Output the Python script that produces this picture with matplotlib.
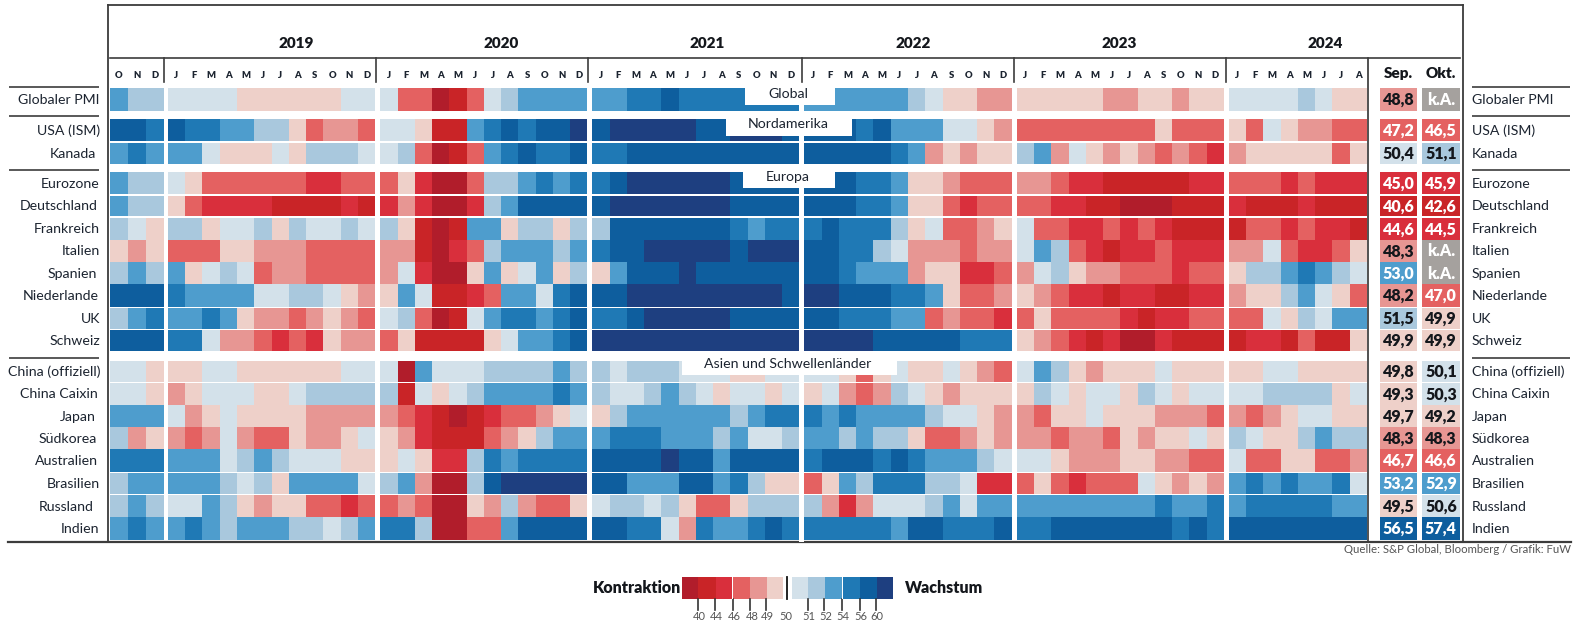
import matplotlib
matplotlib.use("Agg")
import matplotlib.pyplot as plt
from matplotlib.colors import BoundaryNorm, ListedColormap
from matplotlib.patches import Rectangle
import numpy as np

# ---- data: PMI band per month, 2018 Q4 | 2019 | 2020 | 2021 | 2022 | 2023 | 2024
# band letters: A (below 40) ... F (49-50) red, g (50-51) ... l (above 60) blue
globaler_pmi  = "ihh ggggFFFFFFgg gDDABDghiiii iijjkjjjjjjj iiiiiihgFFEE FFFFFEEFFEFF gggghgFF"
usa_ism       = "kkj kjjiihhFDEED ggFBBijkjkkl klllllkklllk kkkjkiiiggFE DDDDDDDDFDDD FDgFEEDD"
kanada        = "iji iigFFFgFhhhg ghDABDijkjjk jjkkkkkkkkkk kkkkkjiEFEFF hiEgFEFEDEDC EFFFFFDF"
eurozone      = "ihh gFDDDDDDCCDD DFCAADhhijij jkllllllkkkk kkkjjiFFEDDD EEDCCBBBBBCC DDDCDCCC"
deutschland   = "ihh FDCCCCBBBBCB CECAAChikkkk klllllllkkkk kkkjjiFFDCDD DDCCBBAAABBB CBBBCBBB"
frankreich    = "hgF hhFgghFhgghg hFBABiiFhhFh hkkkkkkkjijj jkjjjhFgDDEF gDDCCDCDCBBB BDDCDCCB"
italien       = "FEF DDDFFEEEDDDD EEBACDhiiihi jkklllllklll kkjjhgEEEDEE gihDCBCCDCCC EEgDCCDF"
spanien       = "hih iFghgDEEDDDD EgCAAFiFgiFh Fikkklkkkkkk kkjiiiEFFCCD EghFEEDDDCDD Fhhijihg"
niederlande   = "kkk jiiiigghhgFE FigBBCDiigjk kklllllllllk llkkkjjiFDDE FEDCCBCCBBCC EFFhigFD"
uk            = "hij iijiFEEDEFED ghDABgijjijk jjklllllkkkk kkjjjiiDEDDC DFDDDDCBCCDD DDgFhgii"
schweiz       = "kkk jjgEEDCDCFEE DFBBBBFgiijk llllllllllll llllkkkkkjjj FEDCBCAACBBB BCCBDBBF"
china_off     = "ggF FFggFFFFFFgg gAiggghhhhih hghhhgggFFgg ggFDFgFFgFED gihFEFFFgFFF FFggFFFF"
china_caixin  = "ggF EFgggFFghhhh hBgFghiiiiji hgghihgFggFg FgEDEhgFEFFF FhgFggFhgFgg gghhhhFg"
japan         = "iii gEFgFFFFEEEE EDCBABCDDEFg Fhiiiiiihijj jijiiiihggFE EDFFgFFFEEED EDEFggFF"
suedkorea     = "hEF EDEgEDDFEEFg FECBBBDEFhii ijjjiiihiggh iihihhFDDEFE EEDEEDFEFFgF hgFFhihh"
australien    = "jjj iiighihgggFF FgFCChjijjjj kkkklkkikkkk jkkkjkjiiihg ggFEEEFFEEDD gDDFFDDE"
brasilien     = "hii iiihghFiiiig hiEAAhklllll kkiiikkijhFF DFihjjjhhgCC DFDCDDDgFEFE ijijiijg"
russland      = "hih ggihFEFFDDCD DEDAAFEhEDDF ghhghFDDFhhh hECEggghigii iiiiiiiijiij ijjjjjii"
indien        = "iji ijihiiihhghi jjhAADDikkkk kkjjgEjiijkj jjjjjikkjjjk jjkkkkkkkjkj kkkkkkkk"

country_labels = ["Globaler PMI", "USA (ISM)", "Kanada", "Eurozone", "Deutschland", "Frankreich",
                  "Italien", "Spanien", "Niederlande", "UK", "Schweiz", "China (offiziell)",
                  "China Caixin", "Japan", "Südkorea", "Australien", "Brasilien", "Russland", "Indien"]
sep_values = [48.8, 47.2, 50.4, 45.0, 40.6, 44.6, 48.3, 53.0, 48.2, 51.5, 49.9,
              49.8, 49.3, 49.7, 48.3, 46.7, 53.2, 49.5, 56.5]
okt_values = [None, 46.5, 51.1, 45.9, 42.6, 44.5, None, None, 47.0, 49.9, 49.9,
              50.1, 50.3, 49.2, 48.3, 46.6, 52.9, 50.6, 57.4]
year_labels = ["2019", "2020", "2021", "2022", "2023", "2024"]
month_labels = ["O N D", "J F M A M J J A S O N D", "J F M A M J J A S O N D", "J F M A M J J A S O N D",
                "J F M A M J J A S O N D", "J F M A M J J A S O N D", "J F M A M J J A"]
legend_ticks_low = [40, 44, 46, 48, 49, 50]
legend_ticks_high = [51, 52, 54, 56, 60]

rows = [globaler_pmi, usa_ism, kanada, eurozone, deutschland, frankreich, italien, spanien,
        niederlande, uk, schweiz, china_off, china_caixin, japan, suedkorea, australien,
        brasilien, russland, indien]

# ---- colour scale
band_value = dict(A=38, B=42, C=45, D=47, E=48.5, F=49.5, g=50.5, h=51.5, i=53, j=55, k=58, l=62)
boundaries = [36, 40, 44, 46, 48, 49, 50, 51, 52, 54, 56, 60, 64]
band_colors = ["#B11D2B", "#C92427", "#D92F3C", "#E46161", "#E79693", "#EED0C9",
               "#D3E1EA", "#A9C8DD", "#4E9DCD", "#1F79B5", "#0E5E9E", "#1E3F80"]
cmap = ListedColormap(band_colors)
norm = BoundaryNorm(boundaries, cmap.N)

# ---- layout (pixels)
block_edges = [(110, 163.5), (167.6, 375.4), (380.4, 587.4), (592.3, 799.3),
               (804.3, 1011.7), (1016.7, 1224), (1228.7, 1367)]
row_edges = [(88.3, 110.7), (119.3, 141.3), (143, 163.7), (172, 194), (195.7, 216.3),
             (217.7, 239.7), (239.7, 262), (262, 284.3), (284.3, 306.7), (308, 328.7),
             (330, 351.3), (361, 381.7), (383, 405), (405, 427.3), (427.3, 449.3),
             (449.3, 471.7), (473, 494), (495.3, 517.3), (517.3, 539.7)]
left_label_x = [100, 100, 96, 100, 98, 100, 100, 97, 99, 100, 100, 100, 98, 96, 97, 98, 100, 94, 99]
sep_x, okt_x = (1380, 1417), (1421.7, 1460)
year_x = [296, 501, 706.7, 912.7, 1119, 1325]
sep_lines = [164, 376, 588, 802, 1014, 1226]
rule_y = [86.5, 116, 170, 357.7]
line_col = "#3c3c3c"
text_col = "#1c2430"
FONT = ["Lato", "Roboto", "DejaVu Sans"]
plt.rcParams["font.family"] = FONT

fig = plt.figure(figsize=(15.75, 6.23), dpi=100)
ax = fig.add_axes([0, 0, 1, 1])
ax.set_xlim(0, 1575)
ax.set_ylim(623, 0)
ax.axis("off")


def cells(x_edges, y_edges, values):
    ax.pcolormesh(x_edges, y_edges, np.array(values, dtype=float).reshape(1, -1),
                  cmap=cmap, norm=norm, antialiased=False, linewidth=0)


# ---- heat map
for row, (y0, y1) in zip(rows, row_edges):
    for chunk, (x0, x1) in zip(row.split(), block_edges):
        vals = [band_value[c] for c in chunk]
        cells(np.linspace(x0, x1, len(chunk) + 1), [y0, y1], vals)

# ---- Sep. / Okt. columns
for i, (y0, y1) in enumerate(row_edges):
    for v, (x0, x1) in ((sep_values[i], sep_x), (okt_values[i], okt_x)):
        xc = (x0 + x1) / 2
        yc = (y0 + y1) / 2 + 0.5
        if v is None:
            ax.add_patch(Rectangle((x0, y0), x1 - x0, y1 - y0, fc="#A5A19E", ec="none"))
            ax.text(xc, yc, "k.A.", color="white", fontsize=11.5, fontweight="heavy",
                    ha="center", va="center")
        else:
            cells([x0, x1], [y0, y1], [v])
            white = (v < 48) or (v >= 52)
            ax.text(xc, yc, f"{v:.1f}".replace(".", ","), color="white" if white else "#14171c",
                    fontsize=11.5, fontweight="heavy", ha="center", va="center")

# ---- row labels and rules
for label, (y0, y1), lx in zip(country_labels, row_edges, left_label_x):
    yc = (y0 + y1) / 2 + 0.5
    ax.text(lx, yc, label, color=text_col, fontsize=10.2, ha="right", va="center")
    ax.text(1472, yc, label, color=text_col, fontsize=10.2, ha="left", va="center")
for y in rule_y:
    ax.plot([9, 98.7], [y, y], color=line_col, lw=1.2, solid_capstyle="butt")
    ax.plot([1471.7, 1570], [y, y], color=line_col, lw=1.2, solid_capstyle="butt")

# ---- frame
ax.plot([108, 1462.7], [5, 5], color=line_col, lw=1.3)
ax.plot([108, 108], [5, 541.7], color=line_col, lw=1.3)
ax.plot([1462.7, 1462.7], [5, 541.7], color=line_col, lw=1.3)
ax.plot([1367.7, 1367.7], [57.5, 541.7], color="#222222", lw=1.1)
ax.plot([8, 1571], [541.7, 541.7], color=line_col, lw=1.6)
ax.plot([110, 1460], [57.5, 57.5], color=line_col, lw=1.2)
for x in sep_lines:
    ax.plot([x, x], [57.5, 81.5], color=line_col, lw=1.2)

# ---- headers
for x, y in zip(year_x, year_labels):
    ax.text(x, 43, y, color="#14171c", fontsize=11, fontweight="heavy", ha="center", va="center")
for chunk, (x0, x1) in zip(month_labels, block_edges):
    letters = chunk.split()
    w = (x1 - x0) / len(letters)
    for j, m in enumerate(letters):
        ax.text(x0 + w * (j + .5), 75, m, color=text_col, fontsize=6.8, fontweight="heavy",
                ha="center", va="center")
ax.text(sum(sep_x) / 2, 73.5, "Sep.", color="#14171c", fontsize=11, fontweight="heavy", ha="center", va="center")
ax.text(sum(okt_x) / 2, 73.5, "Okt.", color="#14171c", fontsize=11, fontweight="heavy", ha="center", va="center")

# ---- region captions
for label, (x0, x1, y0, y1), ty in [
        ("Global", (745, 835, 87, 105), 93.5),
        ("Nordamerika", (725.7, 852, 118, 135.7), 124.5),
        ("Europa", (743, 835, 171, 188), 177),
        ("Asien und Schwellenländer", (681.7, 896.7, 355, 375.3), 364.5)]:
    ax.add_patch(Rectangle((x0, y0), x1 - x0, y1 - y0, fc="white", ec="none", zorder=3))
    ax.text(788, ty, label, color=text_col, fontsize=10.2, ha="center", va="center", zorder=4)
ax.add_patch(Rectangle((799.3, 87), 5, 455, fc="white", ec="none", zorder=3.5))

ax.text(1571, 549.5, "Quelle: S&P Global, Bloomberg / Grafik: FuW", color="#555555", fontsize=8.2,
        ha="right", va="center")

# ---- colour legend
lx_low = [682.3, 698.3, 715.7, 732.3, 750, 767.3, 783.3]
lx_high = [791.7, 807.7, 825.3, 842.7, 860, 876.7, 892.7]
ly = [577.3, 599.3]
cells(lx_low, ly, [band_value[c] for c in "ABCDEF"])
cells(lx_high, ly, [band_value[c] for c in "ghijkl"])
ax.add_patch(Rectangle((732.0, 577.3), 0.9, 22, fc="white", ec="none", zorder=3))
ax.add_patch(Rectangle((842.4, 577.3), 0.9, 22, fc="white", ec="none", zorder=3))
ax.plot([787.3, 787.3], ly, color="#111111", lw=1.3)
for t, lab in zip([698.3, 715, 732.7, 750.3, 766.3], legend_ticks_low):
    ax.plot([t, t], [599.3, 610], color="#333333", lw=1.2)
    ax.text(t + 1.5, 617, str(lab), color="#555555", fontsize=8, ha="center", va="center")
ax.text(786, 617, str(legend_ticks_low[-1]), color="#555555", fontsize=8, ha="center", va="center")
for t, lab in zip([808.3, 824.3, 842, 859.7, 875.7], legend_ticks_high):
    ax.plot([t, t], [599.3, 610], color="#333333", lw=1.2)
    ax.text(t + 1, 617, str(lab), color="#555555", fontsize=8, ha="center", va="center")
ax.text(681, 588, "Kontraktion", color="#14171c", fontsize=11.5, fontweight="heavy", ha="right", va="center")
ax.text(905, 588, "Wachstum", color="#14171c", fontsize=11.5, fontweight="heavy", ha="left", va="center")

fig.savefig("out.png", dpi=100)
